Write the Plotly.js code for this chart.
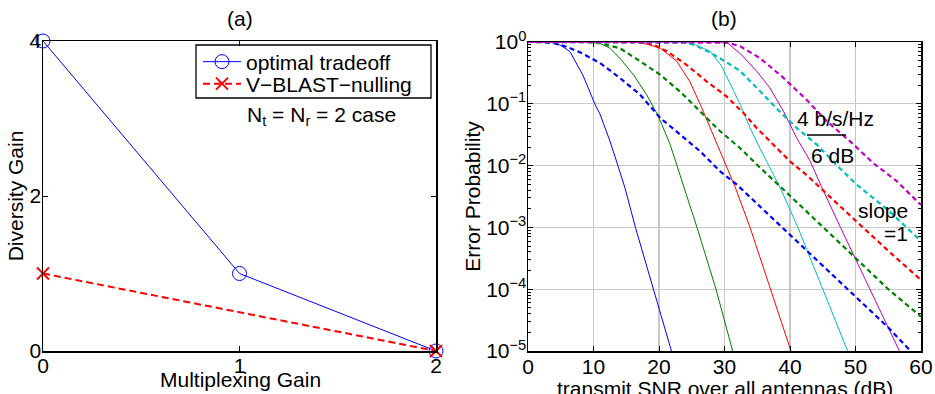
<!DOCTYPE html>
<html><head><meta charset="utf-8">
<script src="https://cdn.plot.ly/plotly-3.0.1.min.js"></script>
<style>html,body{margin:0;padding:0;background:#fff}#chart{width:935px;height:394px}</style>
</head><body><div id="chart"></div>
<script>
// ---- panel (a) ----
const multiplexingGain = [0, 1, 2];
const optimalDiversity = [4, 1, 0];
const vblastGain = [0, 2];
const vblastDiversity = [1, 0];

// ---- panel (b): SNR (dB) and error probability ----
const snrBlueSolid = [0, 2, 3.6, 5, 6.4, 8.4, 10.2, 11.0, 12.5, 13.6, 14.8, 16.4, 19.2, 21.9];
const pBlueSolid   = [1, 1, 0.989, 0.881, 0.70, 0.288, 0.1, 0.0676, 0.0251, 0.011, 0.00437, 1e-3, 1e-4, 1e-5];
const snrGreenSolid = [0, 9, 11, 12.5, 14, 16.1, 18.1, 19.9, 21.7, 23.7, 25.8, 28.7, 31.25];
const pGreenSolid   = [1, 1, 0.955, 0.794, 0.55, 0.295, 0.141, 0.0631, 0.0219, 0.0049, 1e-3, 1e-4, 1e-5];
const snrRedSolid = [0, 16, 18, 20.2, 22.7, 24.7, 26.3, 27.8, 29.3, 30.8, 31.6, 33.9, 37.0, 40.15];
const pRedSolid   = [1, 1, 0.933, 0.794, 0.49, 0.229, 0.0977, 0.0407, 0.017, 0.00708, 0.00457, 1e-3, 1e-4, 1e-5];
const snrCyanSolid = [0, 23, 25, 27.8, 29.5, 31.0, 32.4, 33.9, 35.4, 38.5, 41.2, 45.0, 48.8];
const pCyanSolid   = [1, 1, 0.955, 0.708, 0.417, 0.2, 0.0977, 0.0407, 0.0191, 0.00437, 1e-3, 1e-4, 1e-5];
const snrMagentaSolid = [0, 28, 30.5, 32.4, 34.9, 36.9, 39.0, 41.0, 43.1, 44.8, 47.7, 52.2, 56.7];
const pMagentaSolid   = [1, 1, 0.955, 0.65, 0.339, 0.182, 0.0759, 0.0282, 0.0117, 0.00457, 1e-3, 1e-4, 1e-5];

const snrBlueDash = [0, 2, 4, 6, 8, 11, 14, 17.1, 20.2, 23.2, 26.3, 29.3, 31.9, 35, 40, 45, 50, 55, 58.4];
const pBlueDash   = [1, 1, 0.955, 0.832, 0.676, 0.457, 0.263, 0.141, 0.0589, 0.0316, 0.017, 0.00813, 0.0049, 0.0024, 7.6e-4, 2.4e-4, 7.6e-5, 2.4e-5, 1e-5];
const snrGreenDash = [0, 9, 11, 14, 17.1, 20.2, 23.2, 26.3, 29.3, 32.4, 35.5, 39, 45, 50, 55, 60];
const pGreenDash   = [1, 1, 0.955, 0.794, 0.49, 0.295, 0.158, 0.0759, 0.0363, 0.0191, 0.0091, 0.0041, 1e-3, 3.2e-4, 1e-4, 3.6e-5];
const snrRedDash = [0, 17, 19.1, 21.2, 24.2, 27.3, 30.3, 32.9, 34.9, 37.5, 40, 42.5, 44.6, 50, 55, 60];
const pRedDash   = [1, 1, 0.912, 0.708, 0.427, 0.229, 0.132, 0.0708, 0.0407, 0.0219, 0.0117, 0.00708, 0.00437, 0.00129, 4.17e-4, 1.41e-4];
const snrCyanDash = [0, 22, 24, 25.5, 28.3, 30.5, 32.4, 34.9, 38.0, 41.0, 44.1, 47.1, 50.2, 55, 60];
const pCyanDash   = [1, 1, 0.977, 0.891, 0.631, 0.457, 0.339, 0.182, 0.0832, 0.0407, 0.0219, 0.0102, 0.0049, 0.0019, 6.0e-4];
const snrMagentaDash = [0, 29, 30.5, 32.4, 35.4, 39.0, 42.5, 45.6, 49.2, 52.7, 56.3, 60];
const pMagentaDash   = [1, 1, 0.977, 0.851, 0.55, 0.263, 0.117, 0.0525, 0.0245, 0.011, 0.0056, 0.0023];

const xTicksA = [0, 1, 2];
const yTicksA = [0, 2, 4];
const xTicksB = [0, 10, 20, 30, 40, 50, 60];
const yTicksB = [1e-5, 1e-4, 1e-3, 1e-2, 1e-1, 1];
const yTickTextB = ['10<sup>−5</sup>', '10<sup>−4</sup>', '10<sup>−3</sup>', '10<sup>−2</sup>', '10<sup>−1</sup>', '10<sup>0</sup>'];

const FONT = 'Liberation Sans, Arial, Helvetica, sans-serif';
const FS = 21;
const W = 935, H = 394;
const px = v => v / W, py = v => 1 - v / H;

const C = {blue: 'rgb(0,0,255)', green: 'rgb(0,128,0)', red: 'rgb(255,0,0)', cyan: 'rgb(0,191,191)', magenta: 'rgb(191,0,191)'};

const traces = [
  {x: multiplexingGain, y: optimalDiversity, name: 'optimal tradeoff', xaxis: 'x', yaxis: 'y', legend: 'legend',
   mode: 'lines+markers', cliponaxis: false, line: {color: C.blue, width: 1},
   marker: {symbol: 'circle-open', size: 14, color: C.blue, line: {width: 1}}},
  {x: vblastGain, y: vblastDiversity, name: 'V\u2212BLAST\u2212nulling', xaxis: 'x', yaxis: 'y', legend: 'legend2',
   mode: 'lines+markers', cliponaxis: false, line: {color: C.red, width: 2, dash: '7px,4px'},
   marker: {symbol: 'x-thin-open', size: 12, color: C.red, line: {width: 2, color: C.red}}}
];

function addB(x, y, color, dashed) {
  traces.push({x: x, y: y, xaxis: 'x2', yaxis: 'y2', mode: 'lines', showlegend: false, hoverinfo: 'skip',
    line: {color: color, width: dashed ? 2.2 : 1, dash: dashed ? '5px,3.5px' : 'solid'}});
}
addB(snrBlueSolid, pBlueSolid, C.blue, false);
addB(snrGreenSolid, pGreenSolid, C.green, false);
addB(snrRedSolid, pRedSolid, C.red, false);
addB(snrCyanSolid, pCyanSolid, C.cyan, false);
addB(snrMagentaSolid, pMagentaSolid, C.magenta, false);
addB(snrBlueDash, pBlueDash, C.blue, true);
addB(snrGreenDash, pGreenDash, C.green, true);
addB(snrRedDash, pRedDash, C.red, true);
addB(snrCyanDash, pCyanDash, C.cyan, true);
addB(snrMagentaDash, pMagentaDash, C.magenta, true);

const axBase = {showline: true, linecolor: '#000', linewidth: 1.5, mirror: 'all', ticks: 'inside', ticklen: 5,
  tickcolor: '#000', tickwidth: 1, zeroline: false, automargin: false, tickfont: {family: FONT, size: FS, color: '#000'}};

const legBase = {xanchor: 'left', yanchor: 'middle', bgcolor: 'rgba(0,0,0,0)', borderwidth: 0,
  font: {family: FONT, size: FS, color: '#000'}, itemwidth: 38, tracegroupgap: 0};

const layout = {
  width: W, height: H, margin: {l: 0, r: 0, t: 0, b: 0}, paper_bgcolor: '#fff', plot_bgcolor: '#fff',
  font: {family: FONT, size: FS, color: '#000'},
  showlegend: true,
  legend: Object.assign({}, legBase, {x: px(198), y: py(62)}),
  legend2: Object.assign({}, legBase, {x: px(198), y: py(84)}),
  xaxis: Object.assign({}, axBase, {domain: [px(43), px(436)], range: [0, 2], tickvals: xTicksA, showgrid: false,
    anchor: 'y', ticklabelstandoff: -5}),
  yaxis: Object.assign({}, axBase, {domain: [43 / H, py(41)], range: [0, 4], tickvals: yTicksA, showgrid: false,
    anchor: 'x', ticklabelstandoff: -4, title: {text: 'Diversity Gain', font: {family: FONT, size: FS}, standoff: 0}}),
  xaxis2: Object.assign({}, axBase, {domain: [px(528), px(921)], range: [0, 60], tickvals: xTicksB, showgrid: true,
    gridcolor: '#c8c8c8', gridwidth: 1.2, anchor: 'y2', ticklabelstandoff: -4}),
  yaxis2: Object.assign({}, axBase, {domain: [43 / H, py(42)], type: 'log', range: [-5, 0], tickvals: yTicksB, ticktext: yTickTextB,
    showgrid: true, gridcolor: '#c8c8c8', gridwidth: 1.2, anchor: 'x2', ticklabelstandoff: -4,
    minor: {ticks: 'inside', ticklen: 3, tickcolor: '#000', showgrid: false, dtick: 'D1'},
    title: {text: 'Error Probability', font: {family: FONT, size: FS}, standoff: 0}}),
  annotations: [
    {text: 'Multiplexing Gain', xref: 'paper', yref: 'paper', x: px(240), y: py(379), showarrow: false, font: {size: FS}, xanchor: 'center', yanchor: 'middle'},
    {text: 'transmit SNR over all antennas (dB)', xref: 'paper', yref: 'paper', x: px(725), y: py(388), showarrow: false, font: {size: FS}, xanchor: 'center', yanchor: 'middle'},
    {text: '(a)', xref: 'paper', yref: 'paper', x: px(240), y: py(18), showarrow: false, font: {size: FS}, xanchor: 'center', yanchor: 'middle'},
    {text: '(b)', xref: 'paper', yref: 'paper', x: px(724), y: py(18), showarrow: false, font: {size: FS}, xanchor: 'center', yanchor: 'middle'},
    {text: 'N<sub>t</sub> = N<sub>r</sub> = 2 case', xref: 'paper', yref: 'paper', x: px(245), y: py(116), showarrow: false, font: {size: FS}, xanchor: 'left', yanchor: 'middle'},
    {text: '4 b/s/Hz', xref: 'paper', yref: 'paper', x: px(795), y: py(118), showarrow: false, font: {size: FS}, xanchor: 'left', yanchor: 'middle'},
    {text: '6 dB', xref: 'paper', yref: 'paper', x: px(809), y: py(155), showarrow: false, font: {size: FS}, xanchor: 'left', yanchor: 'middle'},
    {text: 'slope', xref: 'paper', yref: 'paper', x: px(856), y: py(210), showarrow: false, font: {size: FS}, xanchor: 'left', yanchor: 'middle'},
    {text: '=1', xref: 'paper', yref: 'paper', x: px(882), y: py(233), showarrow: false, font: {size: FS}, xanchor: 'left', yanchor: 'middle'}
  ],
  shapes: [
    {type: 'rect', xref: 'paper', yref: 'paper', x0: px(196), x1: px(431), y0: py(98), y1: py(45), layer: 'below',
     fillcolor: '#fff', line: {color: '#000', width: 1.3}},
    {type: 'line', xref: 'paper', yref: 'paper', x0: px(807), x1: px(846), y0: py(135), y1: py(135), line: {color: '#000', width: 1.5}}
  ]
};

Plotly.newPlot('chart', traces, layout, {staticPlot: true, displayModeBar: false});
</script>
</body></html>
